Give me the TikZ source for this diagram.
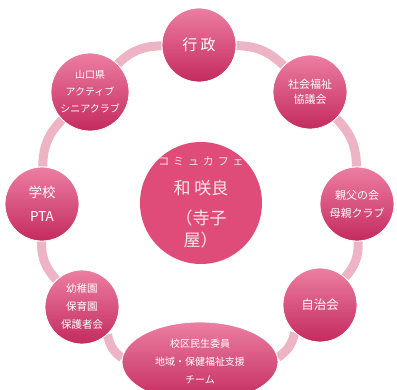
\documentclass[tikz,border=0pt]{standalone}
\usepackage{fontspec}
\usetikzlibrary{shapes.geometric,backgrounds}
\newfontfamily\jp{Noto Sans CJK JP}
\newfontfamily\jpsp[LetterSpace=35]{Noto Sans CJK JP}
\definecolor{topc}{HTML}{EC7EA2}
\definecolor{botc}{HTML}{C42A5E}
\definecolor{midc}{HTML}{E04C79}
\definecolor{ringc}{HTML}{EDB4C5}
\definecolor{softw}{HTML}{FBE6EE}
\tikzset{
  bub/.style={circle, minimum size=74pt, inner sep=0pt, top color=topc, bottom color=botc,
    draw=white, line width=0.8pt, text=white, align=center, font=\jp},
  ringline/.style={draw=ringc, line width=9pt}
}
\begin{document}
\begin{tikzpicture}[x=1pt,y=-1pt]
\useasboundingbox (0,0) rectangle (397,389);
\node[bub, font=\jp\fontsize{15}{16}\selectfont] (gyo) at (199,45) {行 政};
\node[bub, font=\jp\fontsize{11}{15}\selectfont] (sha) at (310,92) {社会福祉\\協議会};
\node[bub, font=\jp\fontsize{11}{18}\selectfont] (oya) at (357,204) {親父の会\\母親クラブ};
\node[bub, font=\jp\fontsize{12.5}{16}\selectfont] (jic) at (320,305) {自治会};
\node[bub, ellipse, minimum width=156pt, minimum height=80pt, font=\jp\fontsize{10}{18}\selectfont] (kou) at (200,362) {校区民生委員\\地域・保健福祉支援\\チーム};
\node[bub, font=\jp\fontsize{10.5}{18}\selectfont] (yoc) at (82,307) {幼稚園\\保育園\\保護者会};
\node[bub, font=\jp\fontsize{13.5}{24}\selectfont] (gak) at (42,204) {学校\\PTA};
\node[bub, minimum size=78pt, font=\jp\fontsize{10}{17}\selectfont] (yam) at (90,92) {山口県\\アクティブ\\シニアクラブ};
\node[circle, minimum size=122pt, inner sep=0pt, fill=midc] (cen) at (201,203) {};
\node[text=softw, font=\jpsp\fontsize{11}{12}\selectfont] (t1) at (201,161) {コミュカフェ};
\node[text=softw, font=\jp\fontsize{17}{18}\selectfont] (t2) at (201,188) {和 咲良};
\node[text=softw, font=\jp\fontsize{17}{18}\selectfont, anchor=west] (t3) at (172,218) {（寺子};
\node[text=softw, font=\jp\fontsize{17}{18}\selectfont, anchor=west] (t4) at (180,240) {屋）};
\begin{scope}[on background layer]
\fill[white] (0,0) rectangle (397,389);
\draw[ringline] (gyo) to[bend left=22] (sha);
\draw[ringline] (sha) to[bend left=22] (oya);
\draw[ringline] (oya) to[bend left=22] (jic);
\draw[ringline] (jic) to[bend left=22] (kou);
\draw[ringline] (kou) to[bend left=22] (yoc);
\draw[ringline] (yoc) to[bend left=22] (gak);
\draw[ringline] (gak) to[bend left=22] (yam);
\draw[ringline] (yam) to[bend left=22] (gyo);
\end{scope}
\end{tikzpicture}
\end{document}
